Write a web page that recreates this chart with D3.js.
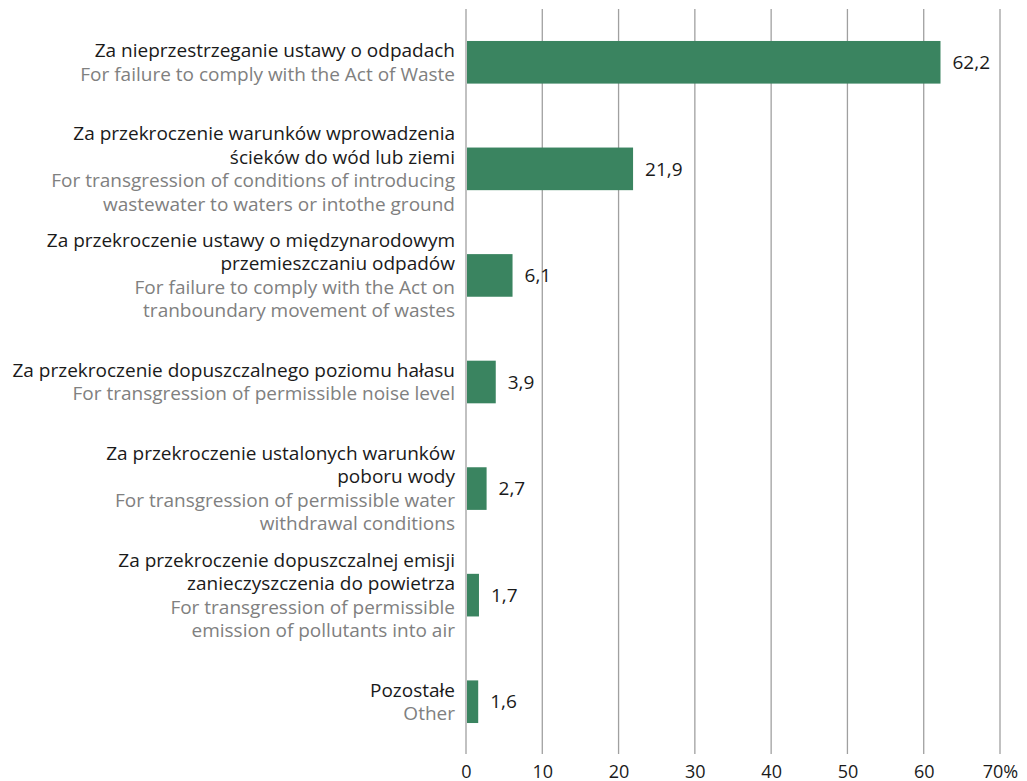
<!DOCTYPE html>
<html lang="pl">
<head>
<meta charset="UTF-8">
<title>Kary</title>
<script src="https://d3js.org/d3.v7.min.js"></script>
<style>
  body { margin: 0; background: #fff; }
  svg text { font-family: "Open Sans", "Noto Sans", sans-serif; }
  .pl { fill: #1a1a1a; font-size: 19px; }
  .en { fill: #808080; font-size: 19px; }
  .val { fill: #1a1a1a; font-size: 19px; }
  .tick text { fill: #1a1a1a; font-size: 18px; }
</style>
</head>
<body>
<svg width="1027" height="781"></svg>
<script>
// etykiety polskie (linie)
const labelsPl = [
  ["Za nieprzestrzeganie ustawy o odpadach"],
  ["Za przekroczenie warunków wprowadzenia", "ścieków do wód lub ziemi"],
  ["Za przekroczenie ustawy o międzynarodowym", "przemieszczaniu odpadów"],
  ["Za przekroczenie dopuszczalnego poziomu hałasu"],
  ["Za przekroczenie ustalonych warunków", "poboru wody"],
  ["Za przekroczenie dopuszczalnej emisji", "zanieczyszczenia do powietrza"],
  ["Pozostałe"]
];
// etykiety angielskie
const labelsEn = [
  ["For failure to comply with the Act of Waste"],
  ["For transgression of conditions of introducing", "wastewater to waters or intothe ground"],
  ["For failure to comply with the Act on", "tranboundary movement of wastes"],
  ["For transgression of permissible noise level"],
  ["For transgression of permissible water", "withdrawal conditions"],
  ["For transgression of permissible", "emission of pollutants into air"],
  ["Other"]
];
const values = [62.2, 21.9, 6.1, 3.9, 2.7, 1.7, 1.6];
const xTicks = [0, 10, 20, 30, 40, 50, 60, 70];

const svg = d3.select("svg");
const mLeft = 466, mRight = 1000, mTop = 9, mBottom = 755;

const x = d3.scaleLinear().domain([0, 70]).range([mLeft, mRight]);
const y = d3.scaleBand().domain(d3.range(values.length)).range([mTop, mBottom]).paddingInner(0.6).paddingOuter(0.3);

// siatka
svg.append("g").selectAll("line")
  .data(xTicks)
  .join("line")
  .attr("x1", d => x(d)).attr("x2", d => x(d))
  .attr("y1", mTop).attr("y2", 754)
  .attr("stroke", "#a0a0a0").attr("stroke-width", 1.3);

// oś
const axis = svg.append("g")
  .attr("transform", `translate(0,${754})`)
  .call(d3.axisBottom(x).tickValues(xTicks).tickSize(0)
    .tickFormat(d => d === 70 ? "70%" : d));
axis.select(".domain").remove();
axis.selectAll("text").attr("font-family", null).attr("font-size", null)
  .attr("y", 23.5).attr("dy", null);

// słupki
svg.append("g").selectAll("rect")
  .data(values)
  .join("rect")
  .attr("x", x(0) + 1)
  .attr("y", (d, i) => y(i))
  .attr("width", d => x(d) - x(0) - 1)
  .attr("height", y.bandwidth())
  .attr("fill", "#3a8460");

// wartości
svg.append("g").selectAll("text")
  .data(values)
  .join("text")
  .attr("class", "val")
  .attr("x", d => x(d) + 12)
  .attr("y", (d, i) => y(i) + y.bandwidth() / 2)
  .attr("dy", "0.35em")
  .text(d => d.toFixed(1).replace(".", ","));

// etykiety kategorii
const lh = 23.5;
const lab = svg.append("g");
labelsPl.forEach((pl, i) => {
  const lines = pl.map(t => ({ t, c: "pl" })).concat(labelsEn[i].map(t => ({ t, c: "en" })));
  const cy = y(i) + y.bandwidth() / 2;
  const y0 = cy - (lines.length - 1) * lh / 2;
  lab.selectAll(null)
    .data(lines)
    .join("text")
    .attr("class", d => d.c)
    .attr("text-anchor", "end")
    .attr("x", mLeft - 11)
    .attr("y", (d, j) => y0 + j * lh)
    .attr("dy", "0.35em")
    .text(d => d.t);
});
</script>
</body>
</html>
